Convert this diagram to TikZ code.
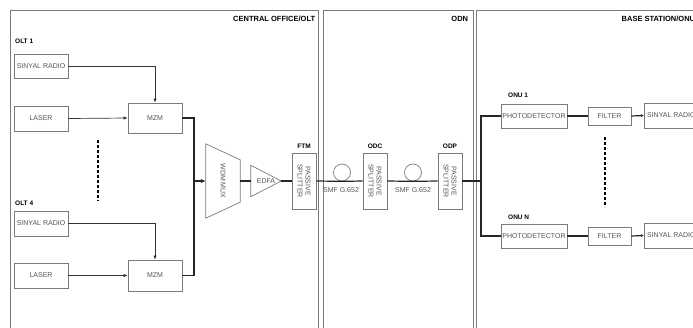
\documentclass[tikz,border=0pt]{standalone}
\usepackage{fontspec}
\setmainfont{Liberation Sans}
\usepackage{tikz}
\usetikzlibrary{shapes.geometric,arrows.meta,positioning,calc}
\definecolor{boxgray}{HTML}{7A7A7A}
\definecolor{txtgray}{HTML}{555555}
\tikzset{
  zone/.style={rectangle, draw=boxgray, line width=0.7pt, inner sep=0pt},
  zonetitle/.style={font=\bfseries\fontsize{7.5}{8}\selectfont, anchor=east, inner sep=0pt},
  unit/.style={rectangle, draw=boxgray, line width=0.7pt, align=center, text=txtgray, font=\fontsize{7}{8}\selectfont, minimum height=24, inner sep=0pt},
  splitter/.style={rectangle, draw=boxgray, line width=0.7pt, minimum width=24, minimum height=56, inner sep=0pt, text=txtgray, font=\fontsize{7}{7.5}\selectfont},
  tag/.style={font=\bfseries\fontsize{6.5}{7}\selectfont, inner sep=0pt},
  sig/.style={-{Latex[length=4pt,width=3.5pt]}, line width=0.7pt, draw=black!80},
  fib/.style={line width=1.2pt, draw=black!85},
  vdots/.style={line width=1.1pt, dash pattern=on 2.5pt off 2.5pt},
}
\newcommand{\splitlabel}{\rotatebox{-90}{\shortstack{PASSIVE\\SPLITTER}}}

\begin{document}
\begin{tikzpicture}[x=1pt, y=-1pt]
  \useasboundingbox (0,0) rectangle (693,327);
  \clip (0,0) rectangle (693,327);
  % zones
  \node[zone, minimum width=308, minimum height=335] (co) at (164,177.5) {};
  \node[zone, minimum width=150, minimum height=335] (odn) at (398,177.5) {};
  \node[zone, minimum width=222, minimum height=335] (bs) at (587,177.5) {};
  \node[zonetitle] (cotitle) at ($(co.north east)+(-3,9)$) {CENTRAL OFFICE/OLT};
  \node[zonetitle] (odntitle) at ($(odn.north east)+(-5,9)$) {ODN};
  \node[zonetitle] (bstitle) at ($(bs.north east)+(-3,9)$) {BASE STATION/ONU};

  % OLT 1
  \node[tag, anchor=west] (olt1) at (15,41) {OLT 1};
  \node[unit, minimum width=54] (sr1) at (41,66) {SINYAL RADIO};
  \node[unit, minimum width=54, minimum height=25] (las1) at (41,118.5) {LASER};
  \node[unit, minimum width=54, minimum height=30] (mzm1) at (155,118) {MZM};
  % OLT 4
  \node[tag, anchor=west] (olt4) at (15,203) {OLT 4};
  \node[unit, minimum width=54, minimum height=25] (sr4) at (41,223.5) {SINYAL RADIO};
  \node[unit, minimum width=54, minimum height=25] (las4) at (41,275.5) {LASER};
  \node[unit, minimum width=54, minimum height=31] (mzm4) at (155,275.5) {MZM};
  \draw[vdots] ($(las1.east)!.5!(mzm1.west)+(0,22)$) -- ++(0,61);

  % mux, amplifier, splitters
  \coordinate (join) at (194,181);
  \node[minimum width=34, minimum height=74, inner sep=0pt, text=txtgray, font=\fontsize{7}{8}\selectfont] (wdm) at (223,181) {\rotatebox{-90}{WDM MUX}};
  \draw[draw=boxgray, line width=0.7pt] (wdm.north west) -- ($(wdm.north east)+(0,16)$) -- ($(wdm.south east)+(0,-16)$) -- (wdm.south west) -- cycle;
  \node[minimum width=30, minimum height=31, inner sep=0pt, text=txtgray, font=\fontsize{7}{8}\selectfont] (edfa) at (266,181) {EDFA};
  \draw[draw=boxgray, line width=0.7pt] (edfa.north west) -- (edfa.east) -- (edfa.south west) -- cycle;
  \node[splitter] (ftm) at (304,181) {\splitlabel};
  \node[tag, above=4pt of ftm] (ftmtag) {FTM};
  \node[circle, draw=boxgray, line width=0.7pt, minimum size=17, inner sep=0pt] (loop1) at (342,172.5) {};
  \node[text=txtgray, font=\fontsize{7}{8}\selectfont, inner sep=0pt] (smf1) at (341,190.5) {SMF G.652};
  \node[splitter] (odc) at (375,181) {\splitlabel};
  \node[tag, above=4pt of odc] (odctag) {ODC};
  \node[circle, draw=boxgray, line width=0.7pt, minimum size=17, inner sep=0pt] (loop2) at (413,172.5) {};
  \node[text=txtgray, font=\fontsize{7}{8}\selectfont, inner sep=0pt] (smf2) at (413,190.5) {SMF G.652};
  \node[splitter] (odp) at (450,181) {\splitlabel};
  \node[tag, above=4pt of odp] (odptag) {ODP};
  \coordinate (bus) at (481,181);

  % ONU 1
  \node[tag, anchor=west] (onu1) at (508,95) {ONU 1};
  \node[unit, minimum width=66] (pd1) at (534,116) {PHOTODETECTOR};
  \node[unit, minimum width=43, minimum height=18] (flt1) at (609.5,116) {FILTER};
  \node[unit, minimum width=54, minimum height=25, anchor=west] (rx1) at (644,115.5) {SINYAL RADIO};
  % ONU N
  \node[tag, anchor=west] (onun) at (508,217) {ONU N};
  \node[unit, minimum width=66] (pdn) at (534,236) {PHOTODETECTOR};
  \node[unit, minimum width=43, minimum height=18] (fltn) at (609.5,236) {FILTER};
  \node[unit, minimum width=54, minimum height=25, anchor=west] (rxn) at (644,235.5) {SINYAL RADIO};
  \draw[vdots] (605,137) -- (605,207);

  % relations
  \draw[sig] (sr1.east) -| (mzm1.north);
  \draw[sig] (las1.east) -- (mzm1.west);
  \draw[sig] (sr4.east) -| (mzm4.north);
  \draw[sig] (las4.east) -- (mzm4.west);
  \draw[fib] (mzm1.east) -| (join);
  \draw[fib] (mzm4.east) -| (join);
  \draw[fib, -{Latex[length=5pt,width=4.5pt]}] (join) -- (wdm.west);
  \draw[fib] (wdm.east) -- (edfa.west);
  \draw[fib] (edfa.east) -- (ftm.west);
  \draw[fib] (ftm.east) -- (loop1.south) -- (odc.west);
  \draw[fib] (odc.east) -- (loop2.south) -- (odp.west);
  \draw[fib] (odp.east) -- (bus);
  \draw[fib] (pd1.west) -| (bus) |- (pdn.west);
  \draw[fib] (pd1.east) -- (flt1.west);
  \draw[fib] (pdn.east) -- (fltn.west);
  \draw[fib, -{Latex[length=3pt,width=3pt]}] (flt1.east) -- (rx1.west);
  \draw[fib, -{Latex[length=3pt,width=3pt]}] (fltn.east) -- (rxn.west);
\end{tikzpicture}
\end{document}
